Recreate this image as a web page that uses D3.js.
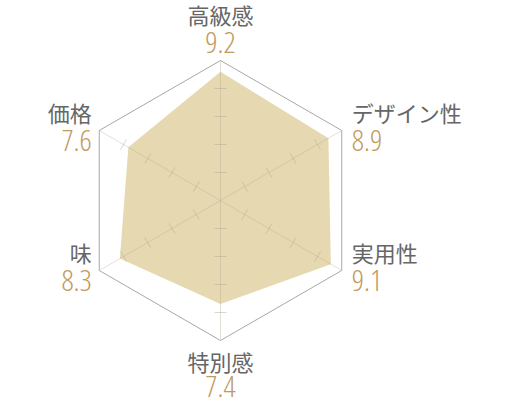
<!DOCTYPE html>
<html>
<head>
<meta charset="utf-8">
<script src="https://cdn.jsdelivr.net/npm/d3@7"></script>
<style>
  body { margin: 0; background: #fff; }
  .lbl { font-family: "Noto Sans CJK JP", "Noto Sans", sans-serif; fill: #666; font-size: 22px; }
  .num { font-family: "Open Sans", "Noto Sans", sans-serif; font-weight: 300; font-stretch: 75%; fill: #c09a60; font-size: 30px; }
</style>
</head>
<body>
<div id="radar"></div>
<script>
// chart data, clockwise from top
var categories = ["高級感", "デザイン性", "実用性", "特別感", "味", "価格"];
var scores = [9.2, 8.9, 9.1, 7.4, 8.3, 7.6];
var tickValues = [2, 4, 6, 8];
var maxScore = 10;

var svgWidth = 510, svgHeight = 400;
var cx = 220.5, cy = 200.5, radius = 140;

var svg = d3.select("#radar")
    .append("svg")
    .attr("width", svgWidth)
    .attr("height", svgHeight);

var g = svg.append("g")
    .attr("transform", `translate(${cx}, ${cy})`);

var rScale = d3.scaleLinear().domain([0, maxScore]).range([0, radius]);
var angle = d3.scalePoint()
    .domain(categories)
    .range([0, 2 * Math.PI * (categories.length - 1) / categories.length]);

function pt(cat, v) {
    var a = angle(cat);
    return [rScale(v) * Math.sin(a), -rScale(v) * Math.cos(a)];
}

// data polygon
var line = d3.line().curve(d3.curveLinearClosed);
g.append("path")
    .attr("d", line(categories.map((c, i) => pt(c, scores[i]))))
    .attr("fill", "#e6d8b0");

// outer hexagon
g.append("path")
    .attr("d", line(categories.map(c => pt(c, maxScore))))
    .attr("fill", "none")
    .attr("stroke", "#a8a8a8")
    .attr("stroke-width", 1);

// spokes
g.selectAll(".spoke")
    .data(categories)
    .enter()
    .append("line")
    .attr("x1", 0).attr("y1", 0)
    .attr("x2", d => pt(d, maxScore)[0])
    .attr("y2", d => pt(d, maxScore)[1])
    .attr("stroke", "#b0a790")
    .attr("stroke-opacity", 0.35);

// tick marks on each spoke
categories.forEach(function(c) {
    var a = angle(c);
    tickValues.forEach(function(t) {
        var p = pt(c, t);
        var dx = 6 * Math.cos(a), dy = 6 * Math.sin(a);
        g.append("line")
            .attr("x1", p[0] - dx).attr("y1", p[1] - dy)
            .attr("x2", p[0] + dx).attr("y2", p[1] + dy)
            .attr("stroke", "#b0a790")
            .attr("stroke-opacity", 0.45);
    });
});

// labels
categories.forEach(function(c, i) {
    var p = pt(c, maxScore);
    var x = p[0], y = p[1], anchor = "middle", yl, yn;
    if (Math.abs(x) < 1) {
        if (y < 0) { yl = y - 37; yn = y - 7.5; }
        else { yl = y + 30.5; yn = y + 56.5; }
    } else {
        anchor = x > 0 ? "start" : "end";
        x += x > 0 ? 10 : -7.5;
        yl = y - 8.5; yn = y + 20.5;
    }
    g.append("text")
        .attr("class", "lbl")
        .attr("x", x).attr("y", yl)
        .attr("text-anchor", anchor)
        .text(c);
    g.append("text")
        .attr("class", "num")
        .attr("x", x).attr("y", yn)
        .attr("text-anchor", anchor)
        .text(scores[i]);
});
</script>
</body>
</html>
